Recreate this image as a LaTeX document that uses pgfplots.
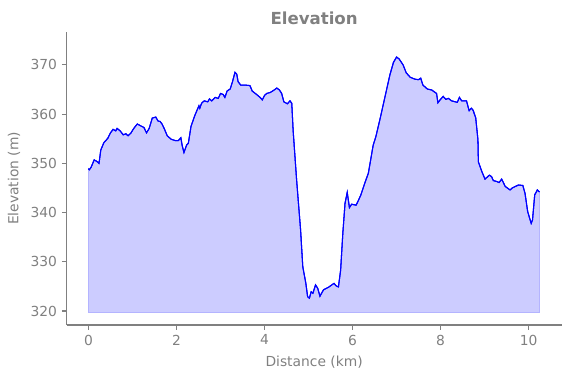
\documentclass[border=0pt]{standalone}
\usepackage{fontspec}
\setmainfont{DejaVu Sans}
\usepackage{pgfplots}
\pgfplotsset{compat=1.18}
\usepgfplotslibrary{fillbetween}
\usepackage{pgfplotstable}
\definecolor{txtgray}{RGB}{128,128,128}
\definecolor{fillblue}{RGB}{204,204,255}
\definecolor{edgeblue}{RGB}{180,180,255}
\pgfplotstableread{
x y
0.00 348.9
0.02 348.7
0.06 349.2
0.13 350.7
0.19 350.4
0.24 350.0
0.28 352.7
0.35 354.2
0.44 355.1
0.50 356.2
0.56 356.9
0.62 356.6
0.65 357.1
0.72 356.6
0.79 355.8
0.85 356.0
0.90 355.6
0.96 356.1
1.03 357.1
1.11 358.0
1.19 357.6
1.26 357.3
1.32 356.2
1.38 357.1
1.45 359.2
1.53 359.4
1.58 358.6
1.63 358.5
1.67 358.0
1.72 357.1
1.79 355.6
1.88 354.9
1.98 354.6
2.04 354.6
2.10 355.2
2.13 353.6
2.17 352.2
2.23 353.7
2.27 354.1
2.33 357.5
2.42 359.8
2.51 361.7
2.53 361.2
2.57 362.2
2.63 362.7
2.71 362.5
2.75 363.1
2.80 362.7
2.88 363.4
2.95 363.2
3.00 364.2
3.06 364.0
3.10 363.4
3.15 364.7
3.22 365.1
3.27 366.5
3.33 368.5
3.37 368.1
3.40 366.6
3.46 365.9
3.56 365.9
3.67 365.8
3.72 364.7
3.82 364.0
3.90 363.4
3.95 362.9
4.00 363.8
4.05 364.2
4.13 364.4
4.22 364.9
4.28 365.3
4.34 364.9
4.39 364.2
4.44 362.5
4.52 362.1
4.58 362.7
4.62 362.2
4.65 356.8
4.73 346.6
4.82 336.5
4.87 329.0
4.94 325.6
4.98 322.9
5.02 322.6
5.06 323.9
5.10 323.6
5.16 325.3
5.21 324.6
5.26 323.0
5.34 324.3
5.45 324.8
5.53 325.3
5.58 325.6
5.63 325.1
5.68 324.9
5.73 328.3
5.78 335.8
5.83 341.9
5.88 344.1
5.93 341.0
5.98 341.7
6.08 341.5
6.11 342.0
6.19 343.6
6.28 346.0
6.36 348.0
6.47 353.7
6.53 355.4
6.63 359.2
6.74 363.6
6.85 368.0
6.93 370.5
7.00 371.6
7.06 371.2
7.15 370.0
7.22 368.4
7.31 367.5
7.42 367.1
7.50 367.0
7.55 367.3
7.60 365.9
7.70 365.1
7.80 364.9
7.91 364.2
7.94 362.3
7.99 362.9
8.06 363.6
8.12 363.0
8.18 363.2
8.25 362.7
8.38 362.4
8.43 363.4
8.48 362.7
8.59 362.7
8.65 360.7
8.70 361.2
8.74 360.8
8.80 359.2
8.85 354.8
8.86 350.3
8.94 348.3
9.01 346.8
9.11 347.6
9.16 347.3
9.20 346.5
9.28 346.3
9.33 346.1
9.39 346.8
9.47 345.3
9.58 344.6
9.63 345.0
9.77 345.6
9.87 345.5
9.92 343.9
9.98 340.2
10.06 337.8
10.09 338.5
10.14 343.6
10.20 344.6
10.23 344.3
10.25 344.2
}\elev
\begin{document}
\begin{tikzpicture}
\begin{axis}[
  at={(0,0)}, anchor=south west,
  scale only axis, width=356.3bp, height=211bp,
  xmin=-0.495, xmax=10.75, ymin=317.15, ymax=376.7,
  axis x line*=bottom, axis y line*=left,
  axis line style={txtgray, line width=0.8pt},
  tick align=outside, major tick length=3.5bp,
  tick style={txtgray, line width=0.8pt},
  xtick={0,2,...,10}, ytick={320,330,...,370},
  tick label style={font=\fontsize{10}{12}\selectfont, text=txtgray},
  /pgf/number format/assume math mode=true,
  xlabel={Distance (km)}, ylabel={Elevation (m)},
  label style={font=\fontsize{10}{12}\selectfont, text=txtgray},
  xlabel style={at={(axis description cs:0.5,-0.140)}, anchor=base},
  ylabel style={at={(axis description cs:-0.0977,0.5)}, anchor=base},
  title={Elevation},
  title style={font=\fontsize{12}{14}\selectfont\bfseries, text=txtgray, at={(axis description cs:0.5,0.9987)}, anchor=base},
]
\addplot[name path=A, blue, line width=0.75pt] table[x=x,y=y] {\elev};
\addplot[name path=B, draw=none] coordinates {(0,319.7) (10.25,319.7)};
\addplot[fill=fillblue, draw=edgeblue, line width=0.6pt] fill between[of=A and B];
\addplot[blue, line width=0.75pt] table[x=x,y=y] {\elev};
\end{axis}
\pgfresetboundingbox
\path[use as bounding box] (-48bp,-38.2bp) rectangle (363.1bp,234bp);
\end{tikzpicture}
\end{document}
